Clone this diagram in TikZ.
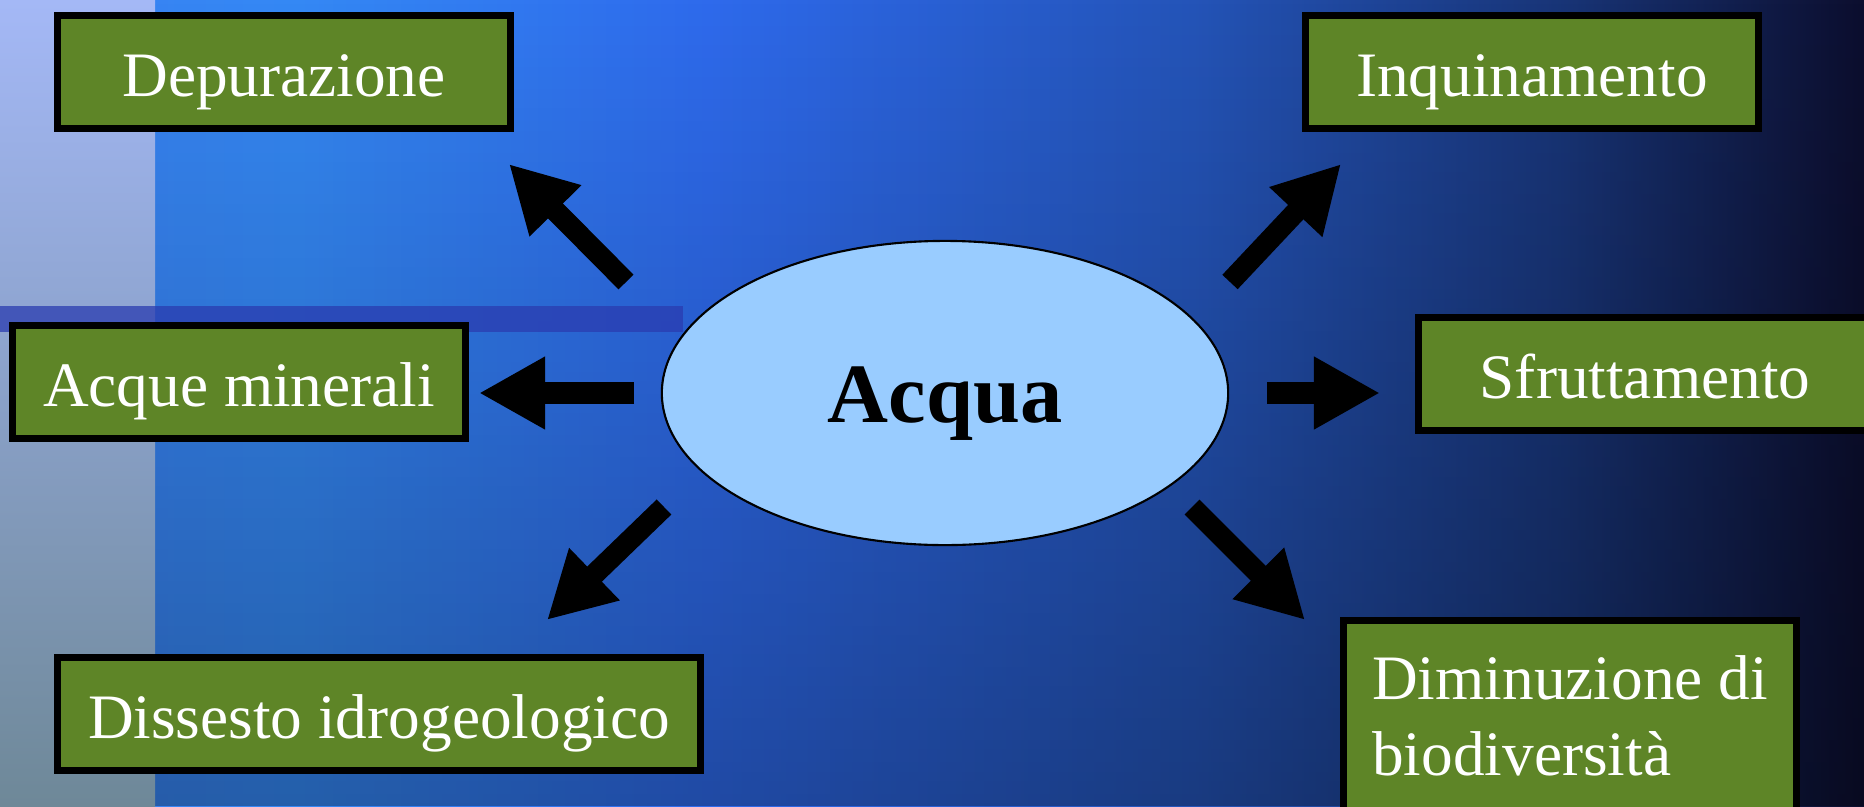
\documentclass[tikz,border=0pt]{standalone}
\usepackage{fontspec}
\setmainfont{Liberation Serif}
\usetikzlibrary{arrows.meta,shapes.geometric,fadings}

\definecolor{leafgreen}{HTML}{5E8527}
\definecolor{drop}{HTML}{99CCFF}
\definecolor{seaA}{HTML}{3A80F2}
\definecolor{seaB}{HTML}{3488F4}
\definecolor{seaC}{HTML}{2E6AEC}
\definecolor{seaD}{HTML}{2454B8}
\definecolor{seaE}{HTML}{183476}
\definecolor{seaF}{HTML}{0C0E2E}
\definecolor{band}{HTML}{2A3CB0}

\pgfdeclarehorizontalshading{seabg}{100bp}{color(0bp)=(seaA); color(25bp)=(seaA);
  color(33bp)=(seaB); color(44bp)=(seaC); color(57bp)=(seaD); color(67bp)=(seaE);
  color(75bp)=(seaF); color(100bp)=(seaF)}

\begin{document}
\begin{tikzpicture}[x=0.01cm, y=-0.01cm,
        topic/.style = {draw = black, line width = 0.07cm, fill = leafgreen, text = white,
            font = \fontsize{18}{21.6}\selectfont, inner sep = 0pt,
            minimum width = 4.53cm, minimum height = 1.12cm},
        oneline/.style = {text height = 0.5cm, text depth = 0.02cm},
        flow/.style = {line width = 0.21cm, -{Triangle[length = 0.66cm, width = 0.68cm]}}
    ]
        \clip (0, 0) rectangle (1864, 806);

        % background
        \shade [shading = seabg] (0, 0) rectangle (1864, 806);
        \fill [black, opacity = 0.3, path fading = north] (0, 0) rectangle (1864, 806);
        \shade [top color = {rgb,255:red,164;green,184;blue,246}, middle color = {rgb,255:red,146;green,180;blue,236},
            bottom color = {rgb,255:red,110;green,136;blue,152}] (0, 0) rectangle (155, 806);
        \fill [band, opacity = 0.75] (0, 306) rectangle (683, 332);

        % centre
        \node (acqua) [ellipse, draw = black, line width = 0.6pt, fill = drop, inner sep = 0pt,
            minimum width = 5.66cm, minimum height = 3.04cm, text height = 0.6cm, text depth = 0.02cm,
            font = \bfseries\fontsize{24}{28}\selectfont] at (945, 393) {Acqua};

        % topics
        \node (dep) [topic, oneline] at (284, 72) {Depurazione};
        \node (inq) [topic, oneline] at (1532, 72) {Inquinamento};
        \node (acm) [topic, oneline] at (239, 382) {Acque minerali};
        \node (sfr) [topic, oneline] at (1645, 374) {Sfruttamento};
        \node (dis) [topic, oneline, minimum width = 6.42cm] at (379, 714) {Dissesto idrogeologico};
        \node (dim) [topic, align = left, minimum height = 1.91cm] at (1570, 716)
            {Diminuzione di\\biodiversità};

        % arrows
        \coordinate (depA) at (626, 282);
        \coordinate (depB) at (509, 164);
        \coordinate (inqA) at (1230, 282);
        \coordinate (inqB) at (1341, 164);
        \coordinate (acmA) at (634, 393);
        \coordinate (acmB) at (479, 393);
        \coordinate (sfrA) at (1267, 393);
        \coordinate (sfrB) at (1380, 393);
        \coordinate (disA) at (664, 507);
        \coordinate (disB) at (547, 620);
        \coordinate (dimA) at (1192, 507);
        \coordinate (dimB) at (1305, 620);

        \draw [flow] (depA) -- (depB);
        \draw [flow] (inqA) -- (inqB);
        \draw [flow] (acmA) -- (acmB);
        \draw [flow] (sfrA) -- (sfrB);
        \draw [flow] (disA) -- (disB);
        \draw [flow] (dimA) -- (dimB);
    \end{tikzpicture}
\end{document}
